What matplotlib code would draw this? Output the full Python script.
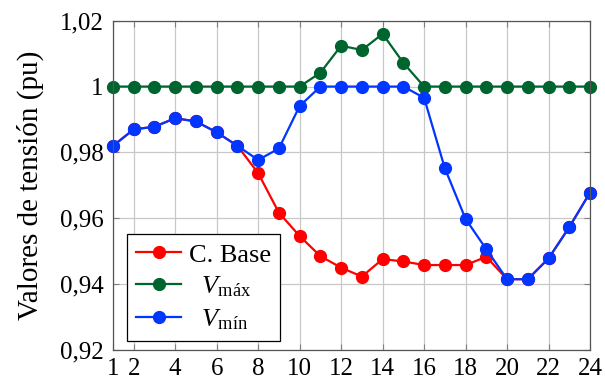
import numpy as np
import matplotlib
matplotlib.use('Agg')
import matplotlib.pyplot as plt

plt.rcParams['font.family'] = ['Liberation Serif', 'DejaVu Serif']
plt.rcParams['mathtext.fontset'] = 'custom'
plt.rcParams['mathtext.rm'] = 'Liberation Serif'
plt.rcParams['mathtext.it'] = 'Liberation Serif:italic'

# datos de tensión por hora
horas = list(range(1, 25))
c_base = [0.982, 0.987, 0.9878, 0.9904, 0.9894, 0.9861, 0.982, 0.9737,
          0.9617, 0.9546, 0.9485, 0.9450, 0.9423, 0.9476, 0.9469, 0.9458,
          0.9458, 0.9458, 0.9483, 0.9415, 0.9415, 0.9478, 0.9573, 0.9678]
v_max = [1.0, 1.0, 1.0, 1.0, 1.0, 1.0, 1.0, 1.0, 1.0, 1.0,
         1.0042, 1.0124, 1.0111, 1.016, 1.0072, 1.0, 1.0, 1.0,
         1.0, 1.0, 1.0, 1.0, 1.0, 1.0]
v_min = [0.982, 0.987, 0.9878, 0.9904, 0.9894, 0.9861, 0.982, 0.9777,
         0.9812, 0.9941, 1.0, 1.0, 1.0, 1.0, 1.0, 0.9966,
         0.9752, 0.9598, 0.9506, 0.9415, 0.9415, 0.9478, 0.9573, 0.9678]

xticks = [1, 2, 4, 6, 8, 10, 12, 14, 16, 18, 20, 22, 24]
yticks = [0.92, 0.94, 0.96, 0.98, 1.0, 1.02]
yticklabels = ['0,92', '0,94', '0,96', '0,98', '1', '1,02']

fig = plt.figure(figsize=(6.05, 3.81), dpi=100)
ax = fig.add_axes([113/605, 1 - 350/381, 477/605, 329.3/381])

estilo = dict(marker='o', markersize=8.5, linewidth=1.6, clip_on=False)
ax.plot(horas, c_base, color='#ff0000', label='C. Base', **estilo)
ax.plot(horas, v_max, color='#00642f', label=r'$\enspace\, V_{\mathrm{máx}}$', **estilo)
ax.plot(horas, v_min, color='#0036ff', label=r'$\enspace\, V_{\mathrm{mín}}$', **estilo)

ax.set_xlim(1, 24)
ax.set_ylim(0.92, 1.02)
ax.set_xticks(xticks)
ax.set_yticks(yticks)
ax.set_yticklabels(yticklabels)
ax.grid(True, color='#c8c8c8', linewidth=0.9)
ax.set_axisbelow(True)
ax.tick_params(direction='in', length=4, color='#808080', labelsize=18,
               top=True, right=True)
ax.tick_params(axis='y', pad=7)
ax.tick_params(axis='x', pad=6)
for s in ax.spines.values():
    s.set_color('#555555')
    s.set_linewidth(0.9)
ax.set_ylabel('Valores de tensión (pu)', fontsize=21, labelpad=11)

leg = ax.legend(loc='lower left', bbox_to_anchor=(14/477, 9/329.3),
                fontsize=19, frameon=True, fancybox=False, handlelength=1.7,
                borderpad=0.35, labelspacing=0.3, handletextpad=0.3,
                borderaxespad=0)
leg.get_frame().set_edgecolor('black')
leg.get_frame().set_linewidth(0.9)
leg.get_frame().set_alpha(1)

fig.savefig('out.png', dpi=100)
